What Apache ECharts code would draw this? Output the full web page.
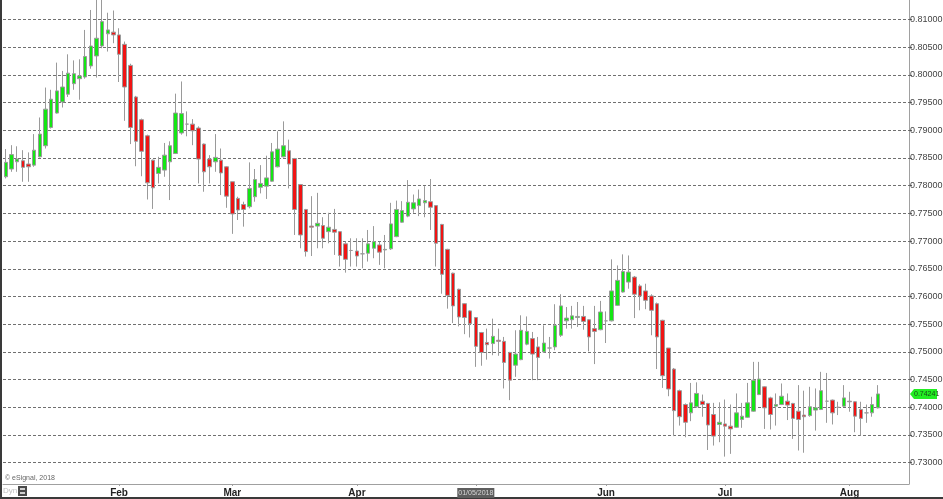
<!DOCTYPE html>
<html><head><meta charset="utf-8">
<script src="https://cdn.jsdelivr.net/npm/echarts@6/dist/echarts.min.js"></script>
<style>html,body{margin:0;padding:0;background:#fff}#c{width:943px;height:499px}</style>
</head><body><div id="c"></div>
<script>
// First trading day shown and number of empty trailing weekdays (right margin of the chart)
const startDate = '2018-01-04';
const padDays = 5;

const open = [
.7816,.7830,.7843,.7845,.7839,.7837,.7852,.7872,.7905,.7931,.7951,.7965,.7984,.7993,.7996,.8016,.8034,.8052,.8074,.8077,
.8072,.8055,.8017,.7960,.7919,.7890,.7846,.7822,.7828,.7843,.7858,.7895,.7911,.7911,.7904,.7875,.7848,.7843,.7846,.7834,
.7807,.7777,.7766,.7762,.7780,.7797,.7799,.7808,.7834,.7852,.7863,.7849,.7802,.7757,.7727,.7727,.7728,.7717,.7721,.7717,
.7695,.7683,.7682,.7677,.7678,.7687,.7693,.7684,.7686,.7708,.7734,.7745,.7758,.7764,.7769,.7771,.7764,.7730,.7685,.7642,
.7613,.7587,.7574,.7562,.7535,.7517,.7515,.7521,.7519,.7499,.7476,.7486,.7514,.7524,.7509,.7500,.7507,.7509,.7530,.7556,
.7558,.7562,.7564,.7558,.7542,.7540,.7556,.7556,.7584,.7608,.7626,.7635,.7619,.7610,.7601,.7587,.7557,.7507,.7469,.7430,
.7405,.7390,.7401,.7411,.7407,.7387,.7369,.7370,.7366,.7364,.7378,.7382,.7393,.7423,.7437,.7417,.7402,.7405,.7411,.7407,
.7393,.7386,.7385,.7395,.7396,.7411,.7413,.7400,.7402,.7411,.7410,.7396,.7390,.7390,.7399
];
const close = [
.7842,.7856,.7848,.7833,.7834,.7864,.7893,.7938,.7956,.7971,.7978,.8003,.8002,.7998,.8033,.8052,.8066,.8096,.8081,.8072,
.8037,.7978,.7905,.7880,.7862,.7805,.7796,.7833,.7855,.7872,.7931,.7930,.7911,.7899,.7848,.7825,.7834,.7851,.7823,.7781,
.7749,.7756,.7757,.7795,.7811,.7804,.7814,.7861,.7866,.7872,.7839,.7757,.7711,.7681,.7725,.7732,.7705,.7725,.7716,.7674,
.7667,.7683,.7673,.7677,.7695,.7699,.7680,.7685,.7731,.7757,.7755,.7770,.7769,.7776,.7773,.7761,.7696,.7640,.7602,.7583,
.7563,.7562,.7551,.7510,.7499,.7513,.7528,.7519,.7481,.7449,.7496,.7539,.7537,.7496,.7490,.7516,.7507,.7548,.7583,.7561,
.7565,.7564,.7555,.7527,.7537,.7572,.7556,.7610,.7629,.7645,.7644,.7604,.7601,.7593,.7575,.7527,.7457,.7433,.7394,.7383,
.7373,.7408,.7425,.7405,.7368,.7348,.7373,.7366,.7361,.7390,.7384,.7408,.7449,.7451,.7399,.7387,.7405,.7420,.7404,.7380,
.7378,.7383,.7401,.7399,.7430,.7411,.7390,.7400,.7417,.7410,.7384,.7380,.7390,.7405,.74241
];
const low = [
.7813,.7825,.7825,.7807,.7807,.7834,.7851,.7867,.7903,.7930,.7941,.7960,.7973,.7955,.7993,.8011,.7995,.8048,.8042,.8057,
.7987,.7917,.7875,.7835,.7817,.7775,.7758,.7804,.7816,.7774,.7857,.7892,.7889,.7873,.7804,.7789,.7804,.7825,.7783,.7760,
.7713,.7738,.7726,.7759,.7771,.7786,.7776,.7807,.7833,.7851,.7795,.7711,.7687,.7672,.7673,.7687,.7687,.7696,.7675,.7654,
.7643,.7654,.7654,.7651,.7663,.7669,.7657,.7651,.7684,.7707,.7733,.7743,.7751,.7745,.7743,.7720,.7654,.7605,.7578,.7552,
.7546,.7532,.7526,.7473,.7475,.7486,.7494,.7493,.7434,.7413,.7455,.7485,.7512,.7449,.7449,.7498,.7488,.7503,.7527,.7542,
.7542,.7545,.7540,.7501,.7478,.7539,.7516,.7555,.7583,.7607,.7614,.7561,.7575,.7577,.7530,.7469,.7435,.7420,.7348,.7367,
.7346,.7375,.7399,.7383,.7323,.7331,.7337,.7311,.7316,.7363,.7363,.7381,.7392,.7422,.7361,.7360,.7367,.7404,.7377,.7343,
.7322,.7318,.7383,.7358,.7395,.7372,.7369,.7386,.7401,.7392,.7355,.7349,.7372,.7383,.7398
];
const high = [
.7866,.7873,.7871,.7864,.7860,.7893,.7923,.7977,.7973,.8022,.8007,.8037,.8026,.8028,.8081,.8117,.8141,.8135,.8112,.8116,
.8084,.8060,.8020,.7962,.7921,.7892,.7847,.7852,.7877,.7880,.7966,.7988,.7934,.7920,.7907,.7876,.7855,.7893,.7867,.7835,
.7807,.7780,.7771,.7842,.7830,.7837,.7854,.7877,.7898,.7916,.7883,.7850,.7803,.7758,.7781,.7787,.7743,.7751,.7758,.7718,
.7699,.7705,.7705,.7705,.7720,.7727,.7699,.7711,.7769,.7773,.7772,.7810,.7784,.7793,.7799,.7812,.7765,.7731,.7686,.7643,
.7614,.7588,.7575,.7563,.7536,.7542,.7560,.7542,.7527,.7500,.7539,.7566,.7564,.7536,.7527,.7548,.7527,.7586,.7604,.7581,
.7583,.7590,.7583,.7559,.7583,.7592,.7573,.7667,.7656,.7676,.7674,.7637,.7622,.7623,.7604,.7589,.7558,.7507,.7471,.7432,
.7407,.7444,.7445,.7423,.7408,.7408,.7409,.7414,.7405,.7425,.7408,.7444,.7482,.7482,.7438,.7419,.7425,.7443,.7425,.7408,
.7440,.7430,.7437,.7434,.7464,.7462,.7414,.7410,.7440,.7428,.7411,.7410,.7405,.7419,.7440
];

const monthNames = ['Jan','Feb','Mar','Apr','May','Jun','Jul','Aug','Sep','Oct','Nov','Dec'];

// weekday calendar for the category axis
const dates = [];
{
  const d = new Date(startDate + 'T00:00:00Z');
  while (dates.length < open.length + padDays) {
    const wd = d.getUTCDay();
    if (wd !== 0 && wd !== 6) dates.push(d.toISOString().slice(0, 10));
    d.setUTCDate(d.getUTCDate() + 1);
  }
}
const isMonthStart = dates.map((s, i) => i > 0 && s.slice(5, 7) !== dates[i - 1].slice(5, 7));

const ohlc = dates.map((s, i) => i < open.length ? [open[i], close[i], low[i], high[i]] : '-');

const chart = echarts.init(document.getElementById('c'), null, {renderer: 'canvas'});

const option = {
  animation: false,
  backgroundColor: '#ffffff',
  textStyle: {fontFamily: 'Liberation Sans, Arial, sans-serif'},
  grid: {left: 3, right: 34, top: -1, bottom: 15, outerBoundsMode: 'none', containLabel: false},
  xAxis: {
    type: 'category',
    data: dates,
    boundaryGap: true,
    axisLine: {show: true, lineStyle: {color: '#a0a0a0', width: 1}},
    axisTick: {show: true, alignWithLabel: true, interval: (i) => isMonthStart[i], length: 2, lineStyle: {color: '#a0a0a0'}},
    axisLabel: {
      interval: (i) => isMonthStart[i],
      margin: 4,
      fontSize: 10,
      fontWeight: 'bold',
      color: '#222',
      formatter: (v) => {
        const m = parseInt(v.slice(5, 7), 10);
        if (m === 5) return '{hl|' + v.slice(8, 10) + '/' + v.slice(5, 7) + '/' + v.slice(0, 4) + '}';
        return monthNames[m - 1];
      },
      rich: {
        hl: {backgroundColor: '#5e5e5e', color: '#d8d8d8', fontWeight: 'normal', fontSize: 7, padding: [2, 1, 1, 1]}
      }
    },
    splitLine: {show: false}
  },
  yAxis: {
    type: 'value',
    position: 'right',
    scale: true,
    min: 0.72616,
    max: 0.81368,
    splitNumber: 17,
    minInterval: 0.005,
    maxInterval: 0.005,
    axisLine: {show: true, lineStyle: {color: '#a0a0a0'}},
    axisTick: {show: true, length: 3, lineStyle: {color: '#666'}},
    axisLabel: {
      showMinLabel: false, showMaxLabel: false,
      margin: 1, fontSize: 9, color: '#444',
      formatter: (v) => v.toFixed(5)
    },
    splitLine: {show: true, lineStyle: {color: '#707070', type: [3, 2], width: 1}}
  },
  series: [{
    type: 'candlestick',
    data: ohlc,
    barWidth: 4,
    clip: true,
    itemStyle: {
      color: '#14e614',
      color0: '#f01414',
      borderColor: '#9a9a9a',
      borderColor0: '#9a9a9a',
      borderColorDoji: '#9a9a9a',
      borderWidth: 1
    }
  }]
};
chart.setOption(option);

// price tag for the last close, placed through the value axis
const lastClose = close[close.length - 1];
const ty = chart.convertToPixel({yAxisIndex: 0}, lastClose);
chart.setOption({
  graphic: [
    {type: 'rect', shape: {x: 0, y: 0, width: 2, height: 499}, style: {fill: '#3a3a3a'}, silent: true},
    {type: 'rect', shape: {x: 0, y: 497, width: 943, height: 2}, style: {fill: '#3a3a3a'}, silent: true},
    {type: 'text', x: 5, y: 475, style: {text: '\u00a9 eSignal, 2018', fontSize: 7, fill: '#666', fontFamily: 'Liberation Sans, Arial'}, silent: true},
    {type: 'text', x: 3, y: 487, style: {text: 'Dyn', fontSize: 8, fill: '#c0c0c0', fontFamily: 'Liberation Sans, Arial'}, silent: true},
    {type: 'rect', shape: {x: 18, y: 486, width: 9, height: 10}, style: {fill: '#4a4a4a'}, silent: true},
    {type: 'rect', shape: {x: 20, y: 488, width: 5, height: 2}, style: {fill: '#cfcfcf'}, silent: true},
    {type: 'rect', shape: {x: 20, y: 492, width: 5, height: 2}, style: {fill: '#cfcfcf'}, silent: true},
    {type: 'polygon', shape: {points: [[910, ty], [914, ty - 5], [937, ty - 5], [937, ty + 5], [914, ty + 5]]}, style: {fill: '#22ee22'}, silent: true},
    {type: 'text', x: 914, y: ty, style: {text: lastClose.toFixed(5), fontSize: 7, fill: '#1a4a1a', verticalAlign: 'middle', fontFamily: 'Liberation Sans, Arial'}, silent: true}
  ]
});
</script></body></html>
